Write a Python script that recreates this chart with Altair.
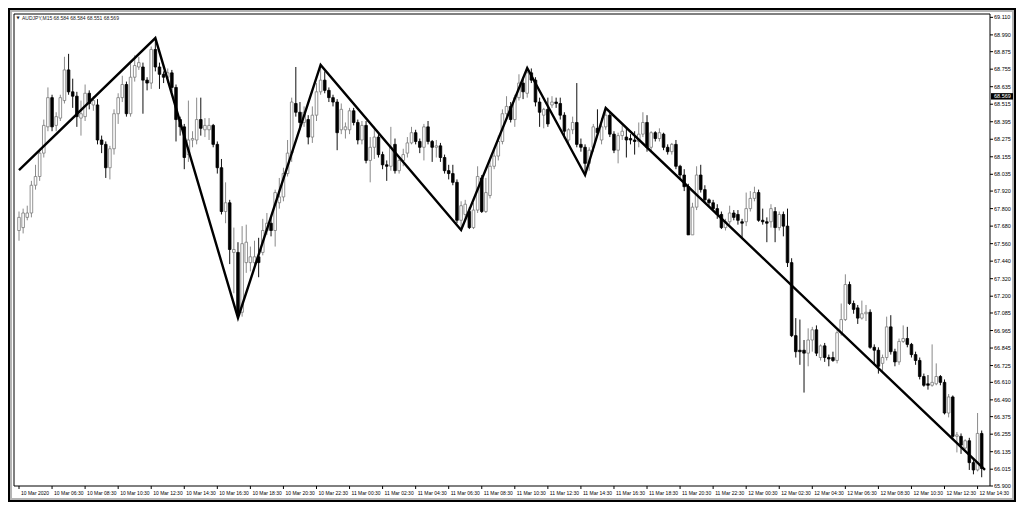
import altair as alt
import pandas as pd

symbol_text = "AUDJPY,M15  68.584 68.584 68.551 68.569"
last_price = 68.569

opens = [
67.65, 67.67, 67.74, 67.77, 67.96, 68.02, 68.18, 68.36, 68.56, 68.37,
68.42, 68.54, 68.75, 68.60, 68.57, 68.42, 68.43, 68.59, 68.51, 68.51,
68.27, 68.24, 68.08, 68.21, 68.45, 68.56, 68.65, 68.45, 68.70, 68.77,
68.77, 68.68, 68.66, 68.89, 68.77, 68.72, 68.70, 68.73, 68.63, 68.41,
68.36, 68.17, 68.27, 68.27, 68.41, 68.34, 68.34, 68.37, 68.24, 68.08,
67.78, 67.84, 67.50, 67.50, 67.09, 67.43, 67.43, 67.43, 67.47, 67.50,
67.65, 67.70, 67.65, 67.84, 67.88, 68.04, 68.18, 68.52, 68.46, 68.39,
68.41, 68.29, 68.44, 68.60, 68.68, 68.61, 68.56, 68.53, 68.34, 68.34,
68.34, 68.47, 68.39, 68.27, 68.37, 68.13, 68.22, 68.29, 68.17, 68.10,
68.09, 68.24, 68.06, 68.13, 68.18, 68.25, 68.32, 68.26, 68.22, 68.36,
68.26, 68.22, 68.23, 68.15, 68.06, 68.04, 67.98, 67.72, 67.76, 67.78,
67.67, 67.79, 68.01, 67.78, 67.89, 68.09, 68.16, 68.26, 68.45, 68.50,
68.41, 68.56, 68.66, 68.59, 68.73, 68.68, 68.53, 68.44, 68.48, 68.51,
68.53, 68.52, 68.44, 68.27, 68.34, 68.39, 68.24, 68.22, 68.11, 68.22,
68.35, 68.27, 68.36, 68.44, 68.31, 68.20, 68.30, 68.29, 68.28, 68.27,
68.26, 68.31, 68.39, 68.22, 68.32, 68.28, 68.31, 68.22, 68.19, 68.24,
68.09, 68.03, 67.95, 67.62, 67.81, 68.03, 67.93, 67.86, 67.84, 67.80,
67.76, 67.67, 67.71, 67.77, 67.76, 67.71, 67.71, 67.80, 67.87, 67.91,
67.72, 67.71, 67.71, 67.78, 67.67, 67.76, 67.68, 67.43, 66.93, 66.83,
66.83, 66.81, 66.90, 66.97, 66.78, 66.86, 66.78, 66.78, 66.76, 66.95,
67.04, 67.28, 67.15, 67.12, 67.05, 67.08, 67.09, 66.85, 66.83, 66.74,
66.78, 66.99, 66.82, 66.75, 66.89, 66.91, 66.87, 66.80, 66.76, 66.65,
66.60, 66.59, 66.60, 66.65, 66.61, 66.40, 66.51, 66.24, 66.24, 66.16,
66.21, 66.06, 66.01, 66.26]

highs = [
67.78, 67.80, 67.82, 67.99, 68.10, 68.21, 68.41, 68.63, 68.58, 68.46,
68.58, 68.84, 68.86, 68.69, 68.60, 68.54, 68.65, 68.61, 68.57, 68.55,
68.30, 68.26, 68.23, 68.48, 68.59, 68.71, 68.67, 68.79, 68.85, 68.84,
68.80, 68.70, 68.91, 68.97, 68.80, 68.74, 68.76, 68.75, 68.65, 68.43,
68.38, 68.54, 68.33, 68.56, 68.56, 68.42, 68.42, 68.38, 68.26, 68.14,
67.98, 67.86, 67.67, 67.57, 67.68, 67.69, 67.54, 67.58, 67.60, 67.73,
67.77, 67.74, 67.93, 68.01, 68.08, 68.27, 68.56, 68.77, 68.53, 68.50,
68.44, 68.50, 68.66, 68.78, 68.74, 68.63, 68.58, 68.55, 68.52, 68.39,
68.49, 68.49, 68.41, 68.40, 68.40, 68.29, 68.36, 68.31, 68.19, 68.13,
68.36, 68.28, 68.16, 68.21, 68.29, 68.36, 68.34, 68.28, 68.38, 68.40,
68.27, 68.27, 68.25, 68.17, 68.10, 68.10, 68.00, 67.85, 67.86, 67.81,
67.84, 68.09, 68.03, 68.01, 68.14, 68.20, 68.30, 68.48, 68.57, 68.53,
68.58, 68.72, 68.70, 68.77, 68.76, 68.70, 68.56, 68.49, 68.56, 68.57,
68.56, 68.56, 68.46, 68.35, 68.43, 68.66, 68.28, 68.24, 68.22, 68.38,
68.48, 68.42, 68.49, 68.46, 68.33, 68.32, 68.37, 68.35, 68.31, 68.33,
68.39, 68.46, 68.44, 68.33, 68.33, 68.35, 68.32, 68.24, 68.25, 68.27,
68.10, 68.07, 67.97, 67.84, 68.09, 68.10, 67.96, 67.87, 67.86, 67.83,
67.78, 67.73, 67.82, 67.79, 67.79, 67.73, 67.91, 67.92, 67.95, 67.93,
67.80, 67.74, 67.83, 67.81, 67.78, 67.78, 67.80, 67.46, 67.05, 67.04,
66.90, 66.98, 66.99, 67.00, 66.87, 66.88, 66.80, 66.82, 66.97, 67.15,
67.35, 67.30, 67.17, 67.14, 67.17, 67.14, 67.11, 66.87, 66.85, 66.80,
67.06, 67.07, 66.84, 66.91, 67.00, 66.99, 66.88, 66.82, 66.78, 66.67,
66.66, 66.87, 66.74, 66.66, 66.63, 66.53, 66.52, 66.27, 66.26, 66.22,
66.23, 66.08, 66.40, 66.28]

lows = [
67.58, 67.63, 67.72, 67.74, 67.93, 67.99, 68.15, 68.33, 68.33, 68.33,
68.40, 68.52, 68.58, 68.49, 68.36, 68.30, 68.40, 68.48, 68.47, 68.24,
68.18, 68.01, 68.00, 68.17, 68.38, 68.53, 68.43, 68.43, 68.67, 68.75,
68.45, 68.61, 68.62, 68.74, 68.62, 68.66, 68.66, 68.60, 68.26, 68.30,
68.07, 68.12, 68.22, 68.24, 68.30, 68.29, 68.27, 68.22, 68.04, 67.76,
67.70, 67.42, 67.22, 67.05, 67.06, 67.36, 67.37, 67.38, 67.33, 67.48,
67.62, 67.61, 67.54, 67.80, 67.85, 68.02, 68.12, 68.43, 68.34, 68.36,
68.24, 68.25, 68.40, 68.58, 68.59, 68.53, 68.50, 68.20, 68.31, 68.28,
68.31, 68.37, 68.24, 68.24, 68.11, 67.98, 68.14, 68.15, 68.07, 67.99,
68.06, 68.04, 68.04, 68.09, 68.15, 68.24, 68.24, 68.18, 68.13, 68.24,
68.12, 68.15, 68.12, 68.04, 68.00, 67.96, 67.70, 67.65, 67.72, 67.66,
67.66, 67.77, 67.77, 67.77, 67.87, 68.07, 68.13, 68.24, 68.43, 68.39,
68.36, 68.54, 68.55, 68.56, 68.66, 68.50, 68.36, 68.35, 68.36, 68.49,
68.49, 68.41, 68.28, 68.24, 68.31, 68.22, 68.19, 68.03, 68.06, 68.19,
68.29, 68.24, 68.34, 68.29, 68.18, 68.11, 68.27, 68.15, 68.24, 68.17,
68.22, 68.29, 68.19, 68.19, 68.26, 68.26, 68.20, 68.17, 68.17, 68.07,
68.00, 67.92, 67.62, 67.62, 67.79, 67.91, 67.84, 67.82, 67.79, 67.73,
67.66, 67.65, 67.69, 67.72, 67.69, 67.60, 67.68, 67.78, 67.85, 67.71,
67.69, 67.57, 67.67, 67.57, 67.65, 67.61, 67.40, 66.92, 66.78, 66.73,
66.54, 66.72, 66.82, 66.79, 66.76, 66.75, 66.72, 66.75, 66.74, 66.93,
67.03, 67.14, 67.08, 67.01, 67.04, 67.03, 66.84, 66.73, 66.67, 66.69,
66.76, 66.80, 66.72, 66.73, 66.88, 66.85, 66.78, 66.73, 66.63, 66.58,
66.56, 66.58, 66.59, 66.59, 66.39, 66.37, 66.22, 66.13, 66.12, 66.15,
66.01, 65.98, 66.00, 65.96]

closes = [
67.74, 67.77, 67.77, 67.96, 68.02, 68.18, 68.37, 68.56, 68.36, 68.43,
68.56, 68.75, 68.60, 68.57, 68.43, 68.45, 68.59, 68.52, 68.54, 68.27,
68.24, 68.08, 68.21, 68.45, 68.56, 68.65, 68.45, 68.70, 68.78, 68.80,
68.68, 68.66, 68.89, 68.77, 68.72, 68.70, 68.73, 68.63, 68.41, 68.36,
68.15, 68.27, 68.28, 68.41, 68.35, 68.37, 68.37, 68.24, 68.08, 67.78,
67.84, 67.52, 67.52, 67.08, 67.56, 67.57, 67.47, 67.47, 67.43, 67.65,
67.70, 67.65, 67.91, 67.88, 68.04, 68.18, 68.53, 68.46, 68.39, 68.46,
68.29, 68.44, 68.60, 68.68, 68.61, 68.56, 68.53, 68.32, 68.48, 68.36,
68.47, 68.39, 68.27, 68.37, 68.13, 68.22, 68.29, 68.17, 68.10, 68.09,
68.22, 68.06, 68.13, 68.17, 68.25, 68.32, 68.26, 68.22, 68.36, 68.26,
68.22, 68.23, 68.15, 68.06, 68.04, 67.98, 67.72, 67.82, 67.83, 67.67,
67.79, 68.02, 67.78, 67.91, 68.09, 68.16, 68.26, 68.45, 68.50, 68.41,
68.56, 68.66, 68.60, 68.73, 68.68, 68.53, 68.46, 68.48, 68.38, 68.53,
68.52, 68.44, 68.33, 68.34, 68.39, 68.24, 68.22, 68.11, 68.20, 68.36,
68.32, 68.36, 68.44, 68.31, 68.20, 68.30, 68.33, 68.27, 68.27, 68.26,
68.31, 68.39, 68.22, 68.32, 68.28, 68.32, 68.22, 68.19, 68.24, 68.09,
68.03, 67.95, 67.62, 67.81, 68.03, 67.93, 67.86, 67.84, 67.80, 67.76,
67.67, 67.71, 67.77, 67.74, 67.72, 67.70, 67.80, 67.87, 67.91, 67.72,
67.71, 67.70, 67.80, 67.67, 67.76, 67.68, 67.43, 66.93, 66.82, 66.82,
66.81, 66.90, 66.97, 66.81, 66.86, 66.78, 66.77, 66.76, 66.95, 67.04,
67.28, 67.15, 67.11, 67.05, 67.08, 67.09, 66.85, 66.83, 66.72, 66.78,
66.99, 66.82, 66.75, 66.89, 66.91, 66.87, 66.80, 66.76, 66.65, 66.59,
66.59, 66.61, 66.65, 66.61, 66.40, 66.51, 66.24, 66.25, 66.18, 66.21,
66.06, 66.01, 66.26, 66.02]

zz_idx = [0, 33, 53, 73, 107, 123, 137, 142, 233.8]
zz_price = [68.064, 68.968, 67.051, 68.784, 67.653, 68.763, 68.030, 68.489, 66.010]

y_ticks = [69.110, 68.990, 68.875, 68.755, 68.635, 68.515, 68.395, 68.275, 68.155,
           68.035, 67.920, 67.800, 67.680, 67.560, 67.440, 67.320, 67.200, 67.085,
           66.965, 66.845, 66.725, 66.610, 66.490, 66.375, 66.255, 66.135, 66.015, 65.900]

x_label_pos = [0, 8, 16, 24, 32, 40, 48, 56, 64, 72, 80, 88, 96, 104, 112, 120,
               128, 136, 144, 152, 160, 168, 176, 184, 192, 200, 208, 216, 224, 232]
x_label_text = ["10 Mar 2020", "10 Mar 06:30", "10 Mar 08:30", "10 Mar 10:30", "10 Mar 12:30",
                "10 Mar 14:30", "10 Mar 16:30", "10 Mar 18:30", "10 Mar 20:30", "10 Mar 22:30",
                "11 Mar 00:30", "11 Mar 02:30", "11 Mar 04:30", "11 Mar 06:30", "11 Mar 08:30",
                "11 Mar 10:30", "11 Mar 12:30", "11 Mar 14:30", "11 Mar 16:30", "11 Mar 18:30",
                "11 Mar 20:30", "11 Mar 22:30", "12 Mar 00:30", "12 Mar 02:30", "12 Mar 04:30",
                "12 Mar 06:30", "12 Mar 08:30", "12 Mar 10:30", "12 Mar 12:30", "12 Mar 14:30"]

n = len(opens)
assert len(highs) == n and len(lows) == n and len(closes) == n, (n, len(highs), len(lows), len(closes))

W, H = 976, 472
FONT = "Liberation Sans"

df = pd.DataFrame({"i": list(range(n)), "open": opens, "high": highs, "low": lows, "close": closes})
zz = pd.DataFrame({"i": zz_idx, "p": zz_price})
xl = pd.DataFrame({"i": x_label_pos, "t": x_label_text})
yl = pd.DataFrame({"p": y_ticks})

xscale = alt.Scale(domain=[0, 233.8], nice=False, zero=False)
yscale = alt.Scale(domain=[65.900, 69.133], nice=False, zero=False)

one = pd.DataFrame({"k": [0]})

# outer black edge and grey inner rim
outer = alt.Chart(one).mark_rect(fill="white", fillOpacity=0, stroke="#000", strokeWidth=4).encode(
    x=alt.value(-6), x2=alt.value(1002), y=alt.value(-6), y2=alt.value(488))
rim = alt.Chart(one).mark_rect(fill="white", fillOpacity=0, stroke="#b4b4b4", strokeWidth=2).encode(
    x=alt.value(-3), x2=alt.value(999), y=alt.value(-3), y2=alt.value(485))

border = alt.Chart(one).mark_rect(fill="white", fillOpacity=0, stroke="#000", strokeWidth=1).encode(
    x=alt.value(0), x2=alt.value(W), y=alt.value(0), y2=alt.value(H))

bull = "datum.close >= datum.open"

wicks = alt.Chart(df).mark_rule(clip=True, strokeWidth=1).encode(
    x=alt.X("i:Q", scale=xscale, axis=None),
    y=alt.Y("low:Q", scale=yscale, axis=None),
    y2="high:Q",
    color=alt.condition(bull, alt.value("#8a8a8a"), alt.value("#111111")),
)

bodies = alt.Chart(df).mark_bar(size=2.6, clip=True, strokeWidth=0.8).encode(
    x=alt.X("i:Q", scale=xscale, axis=None),
    y=alt.Y("open:Q", scale=yscale, axis=None),
    y2="close:Q",
    fill=alt.condition(bull, alt.value("#ffffff"), alt.value("#000000")),
    stroke=alt.condition(bull, alt.value("#7a7a7a"), alt.value("#000000")),
)

zigzag = alt.Chart(zz).mark_line(color="#000", strokeWidth=2.4, clip=True).encode(
    x=alt.X("i:Q", scale=xscale, axis=None),
    y=alt.Y("p:Q", scale=yscale, axis=None),
    order="i:Q",
)

# time axis: ticks and labels
xticks = alt.Chart(xl).mark_rule(color="#000", strokeWidth=1).encode(
    x=alt.X("i:Q", scale=xscale, axis=None), y=alt.value(H), y2=alt.value(H + 3))
xlabels = alt.Chart(xl).mark_text(align="left", baseline="middle", fontSize=5, font=FONT,
                                  color="#000", dx=2).encode(
    x=alt.X("i:Q", scale=xscale, axis=None), y=alt.value(H + 7), text="t:N")

# price axis: ticks and labels
yticks = alt.Chart(yl).mark_rule(color="#000", strokeWidth=1).encode(
    y=alt.Y("p:Q", scale=yscale, axis=None), x=alt.value(W), x2=alt.value(W + 3))
ylabels = alt.Chart(yl).mark_text(align="left", baseline="middle", fontSize=5.5, font=FONT,
                                  color="#000").encode(
    y=alt.Y("p:Q", scale=yscale, axis=None), x=alt.value(W + 4),
    text=alt.Text("p:Q", format=".3f"))

header = alt.Chart(pd.DataFrame({"t": [symbol_text]})).mark_text(
    align="left", baseline="middle", fontSize=5, font=FONT, color="#222").encode(
    x=alt.value(8), y=alt.value(4), text="t:N")

tri = alt.Chart(pd.DataFrame({"t": ["\u25bc"]})).mark_text(
    align="center", baseline="middle", fontSize=4, font="DejaVu Sans", color="#222").encode(
    x=alt.value(4), y=alt.value(4), text="t:N")

px = pd.DataFrame({"p": [last_price], "t": ["%.3f" % last_price]})
pbox = alt.Chart(px).transform_calculate(top="datum.p + 0.022", bot="datum.p - 0.022").mark_rect(
    fill="#000").encode(
    x=alt.value(W + 1), x2=alt.value(W + 23),
    y=alt.Y("top:Q", scale=yscale, axis=None), y2="bot:Q")
ptext = alt.Chart(px).mark_text(align="left", baseline="middle", fontSize=5.5, font=FONT,
                                color="#fff").encode(
    x=alt.value(W + 4), y=alt.Y("p:Q", scale=yscale, axis=None), text="t:N")

chart = alt.layer(outer, rim, border, wicks, bodies, zigzag, xticks, xlabels, yticks, ylabels,
                  header, tri, pbox, ptext).properties(
    width=W, height=H,
    padding={"left": 6, "top": 6, "right": 26, "bottom": 16},
    autosize=alt.AutoSizeParams(type="none"),
    background="#ffffff",
).configure_view(stroke=None, fill=None)

chart.save("out.html", embed_options={"renderer": "svg", "actions": False})
